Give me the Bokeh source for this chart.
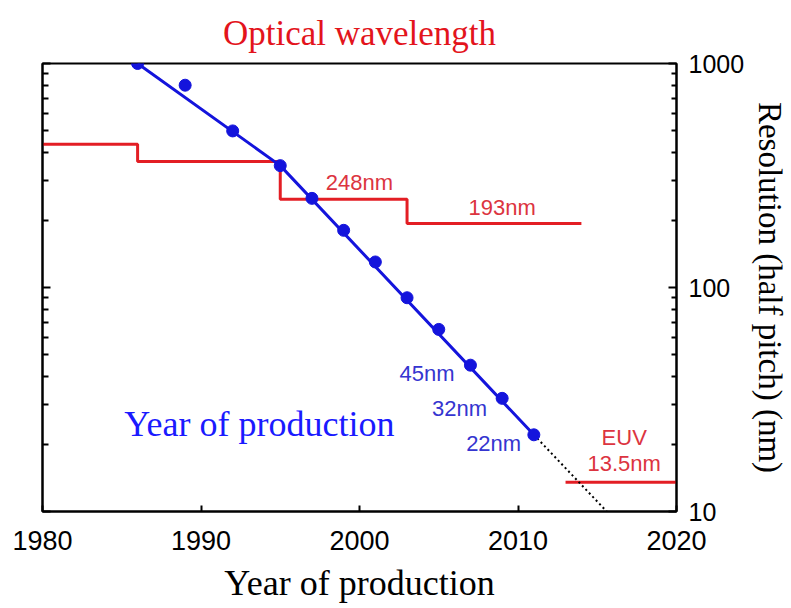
from bokeh.plotting import figure
from bokeh.models import LogAxis, FixedTicker, NumeralTickFormatter
from bokeh.core.properties import value
from bokeh.embed import file_html
from bokeh.resources import INLINE

# ---- data ----
node_years = [1986, 1989, 1992, 1995, 1997, 1999, 2001, 2003, 2005, 2007, 2009, 2011]
node_nm = [1000, 800, 500, 350, 250, 180, 130, 90, 65, 45, 32, 22]

trend_years = [1986, 1995, 2011]
trend_nm = [1000, 350, 22]

extrap_years = [2011, 2015.6]
extrap_nm = [22, 10]

wl_years = [1980, 1986, 1995, 2003, 2014]
wl_nm = [436, 365, 248, 193, 193]

euv_years = [2013, 2020]
euv_nm = [13.5, 13.5]

x_ticks = [1980, 1990, 2000, 2010, 2020]
y_ticks = [10, 100, 1000]
y_minor = [20, 30, 40, 50, 60, 70, 80, 90, 200, 300, 400, 500, 600, 700, 800, 900]

red_labels = ["248nm", "193nm"]
red_label_x = [2000.0, 2009.0]
red_label_y = [294, 228]

euv_labels = ["EUV", "13.5nm"]
euv_label_x = [2016.7, 2016.7]
euv_label_y = [21.4, 16.4]

blue_labels = ["45nm", "32nm", "22nm"]
blue_label_x = [2006.0, 2008.05, 2010.2]
blue_label_y = [41.3, 28.8, 20.1]

RED = "#e31e24"
RED_TXT = "#dc3440"
BLUE = "#1414dc"
BLUE_TXT = "#3535d0"

p = figure(width=791, height=608, x_range=(1980, 2020), y_range=(10, 1000),
           y_axis_type="log", y_axis_location="right",
           output_backend="svg", toolbar_location=None,
           min_border_left=42, min_border_right=113, min_border_top=63, min_border_bottom=97)

p.xgrid.visible = False
p.ygrid.visible = False
p.outline_line_color = "black"
p.outline_line_width = 2
p.background_fill_color = "white"
p.border_fill_color = "white"

# title
p.title.text = "Optical wavelength"
p.title.text_color = "#e3141c"
p.title.text_font = "Liberation Serif"
p.title.text_font_size = "35px"
p.title.text_font_style = "normal"
p.title.align = "center"
p.title.standoff = 21

# x axis
xa = p.xaxis[0]
xa.ticker = FixedTicker(ticks=x_ticks)
xa.major_tick_in = 6
xa.major_tick_out = 0
xa.minor_tick_in = 0
xa.minor_tick_out = 0
xa.axis_line_width = 2
xa.major_tick_line_width = 2
xa.major_label_text_font = "Liberation Sans"
xa.major_label_text_font_size = "27px"
xa.major_label_text_color = "black"
xa.major_label_standoff = 19
xa.axis_label = "Year of production"
xa.axis_label_text_font = "Liberation Serif"
xa.axis_label_text_font_size = "36px"
xa.axis_label_text_font_style = "normal"
xa.axis_label_text_color = "black"
xa.axis_label_standoff = 10

# right (main) y axis
ya = p.yaxis[0]
ya.ticker = FixedTicker(ticks=y_ticks, minor_ticks=y_minor)
ya.formatter = NumeralTickFormatter(format="0")
ya.major_tick_in = 8
ya.major_tick_out = 0
ya.minor_tick_in = 5
ya.minor_tick_out = 0
ya.axis_line_width = 2
ya.major_tick_line_width = 2
ya.minor_tick_line_width = 2
ya.major_label_text_font = "Liberation Sans"
ya.major_label_text_font_size = "25px"
ya.major_label_text_color = "black"
ya.major_label_standoff = 12
ya.major_label_orientation = "horizontal"
ya.axis_label = "Resolution (half pitch) (nm)"
ya.axis_label_text_font = "Liberation Serif"
ya.axis_label_text_font_size = "33px"
ya.axis_label_text_font_style = "normal"
ya.axis_label_text_color = "black"
ya.axis_label_standoff = 5

# left y axis (ticks only)
la = LogAxis(ticker=FixedTicker(ticks=y_ticks, minor_ticks=y_minor))
la.major_tick_in = 8
la.major_tick_out = 0
la.minor_tick_in = 6
la.minor_tick_out = 0
la.axis_line_width = 2
la.major_tick_line_width = 2
la.minor_tick_line_width = 2
la.major_label_text_font_size = "0px"
la.major_label_text_alpha = 0
p.add_layout(la, "left")

# wavelength steps
p.step(wl_years, wl_nm, mode="after", line_color=RED, line_width=3)
p.line(euv_years, euv_nm, line_color=RED, line_width=3)

# trend
p.line(extrap_years, extrap_nm, line_color="black", line_width=2, line_dash="2 3")
p.line(trend_years, trend_nm, line_color=BLUE, line_width=3)
p.scatter(node_years, node_nm, size=12, fill_color=BLUE, line_color=BLUE)

# labels
p.text(x=red_label_x, y=red_label_y, text=red_labels, text_color=RED_TXT,
       text_font=value("Liberation Sans"), text_font_size="22px",
       text_align="center", text_baseline="middle")
p.text(x=euv_label_x, y=euv_label_y, text=euv_labels, text_color=RED_TXT,
       text_font=value("Liberation Sans"), text_font_size="22px",
       text_align="center", text_baseline="middle")
p.text(x=blue_label_x, y=blue_label_y, text=blue_labels, text_color=BLUE_TXT,
       text_font=value("Liberation Sans"), text_font_size="22px",
       text_align="right", text_baseline="middle")
p.text(x=[1985.15], y=[24.7], text=["Year of production"], text_color="#1a1aff",
       text_font=value("Liberation Serif"), text_font_size="36px",
       text_align="left", text_baseline="middle")

open("out.html", "w").write(file_html(p, INLINE))
